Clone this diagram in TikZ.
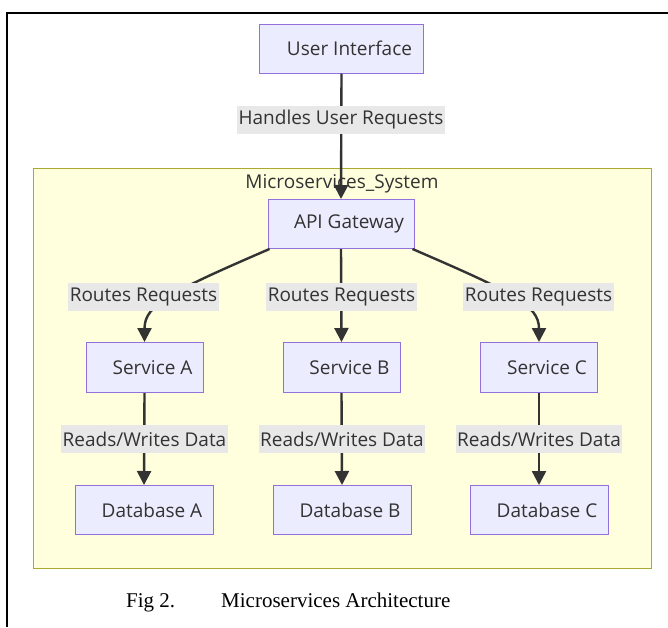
\documentclass[tikz,border=0pt]{standalone}
\usepackage{fontspec}
\setmainfont{Open Sans}
\newfontfamily\capfont{Liberation Serif}
\usetikzlibrary{arrows.meta}

\definecolor{boxfill}{HTML}{ECECFF}
\definecolor{boxline}{HTML}{9370DB}
\definecolor{clusterfill}{HTML}{FFFFDE}
\definecolor{clusterline}{HTML}{AAAA33}
\definecolor{ink}{HTML}{333333}
\definecolor{lblfill}{HTML}{E8E8E8}

\tikzset{
  every node/.style={text=ink, font=\fontsize{19}{21}\selectfont},
  box/.style={draw=boxline, fill=boxfill, line width=1pt, inner sep=0pt,
    minimum height=49pt, execute at begin node=\hspace*{16pt}},
  edgelbl/.style={fill=lblfill, inner xsep=1.5pt, inner ysep=0pt, minimum height=28pt},
  flow/.style={draw=ink, line width=2.4pt, -{Triangle[length=14pt, width=14pt]}},
  frameline/.style={draw=black, line width=1.6pt},
  captext/.style={anchor=base west, text=black, inner sep=0pt,
    font=\capfont\fontsize{21}{24}\selectfont},
}

\begin{document}
\begin{tikzpicture}[x=1pt, y=-1pt]
  \useasboundingbox (0,0) rectangle (668,627);

  % outer frame (open on the right and bottom)
  \draw[frameline] (7,627) -- (7,13) -- (668,13);

  % cluster
  \node[draw=clusterline, fill=clusterfill, line width=1pt, minimum width=618pt,
        minimum height=400pt, inner sep=0pt] (sys) at (342,368) {};
  \node (systitle) at (342,184) {Microservices\_System};

  % nodes
  \node[box, minimum width=164pt] (ui)  at (341.5,48.5)  {User Interface};
  \node[box, minimum width=146pt] (api) at (341,224) {API Gateway};

  \node[box, minimum width=117pt, minimum height=50pt] (sa) at (144.5,367.5) {Service A};
  \node[box, minimum width=117pt, minimum height=50pt] (sb) at (341.5,367.5) {Service B};
  \node[box, minimum width=117pt, minimum height=50pt] (sc) at (539,367.5)   {Service C};

  \node[box, minimum width=138pt, minimum height=49pt] (da) at (144,510) {Database A};
  \node[box, minimum width=138pt, minimum height=49pt] (db) at (342,510) {Database B};
  \node[box, minimum width=138pt, minimum height=49pt] (dc) at (539,510) {Database C};

  % connectors
  \draw[flow] (ui.south) -- (api.north);
  \draw[flow] ([xshift=2pt]api.south west) .. controls (170,292) and (144.5,305) .. (sa.north);
  \draw[flow] (api.south) -- (sb.north);
  \draw[flow] ([xshift=-2pt]api.south east) .. controls (512,292) and (539,305) .. (sc.north);
  \draw[flow] (sa.south) -- (da.north);
  \draw[flow] (sb.south) -- (db.north);
  \draw[flow] (sc.south) -- (dc.north);

  % connector labels
  \node[edgelbl] (l0) at (341,120) {Handles User Requests};
  \node[edgelbl] (l1) at (143.5,297) {Routes Requests};
  \node[edgelbl] (l2) at (341.5,297) {Routes Requests};
  \node[edgelbl] (l3) at (538.5,297) {Routes Requests};
  \node[edgelbl] (l4) at (144.5,439) {Reads/Writes Data};
  \node[edgelbl] (l5) at (342,439) {Reads/Writes Data};
  \node[edgelbl] (l6) at (539,439) {Reads/Writes Data};

  % caption
  \node[captext] (capnum)  at (126,607) {Fig 2.};
  \node[captext] (captext) at (221,607) {Microservices Architecture};
\end{tikzpicture}
\end{document}
